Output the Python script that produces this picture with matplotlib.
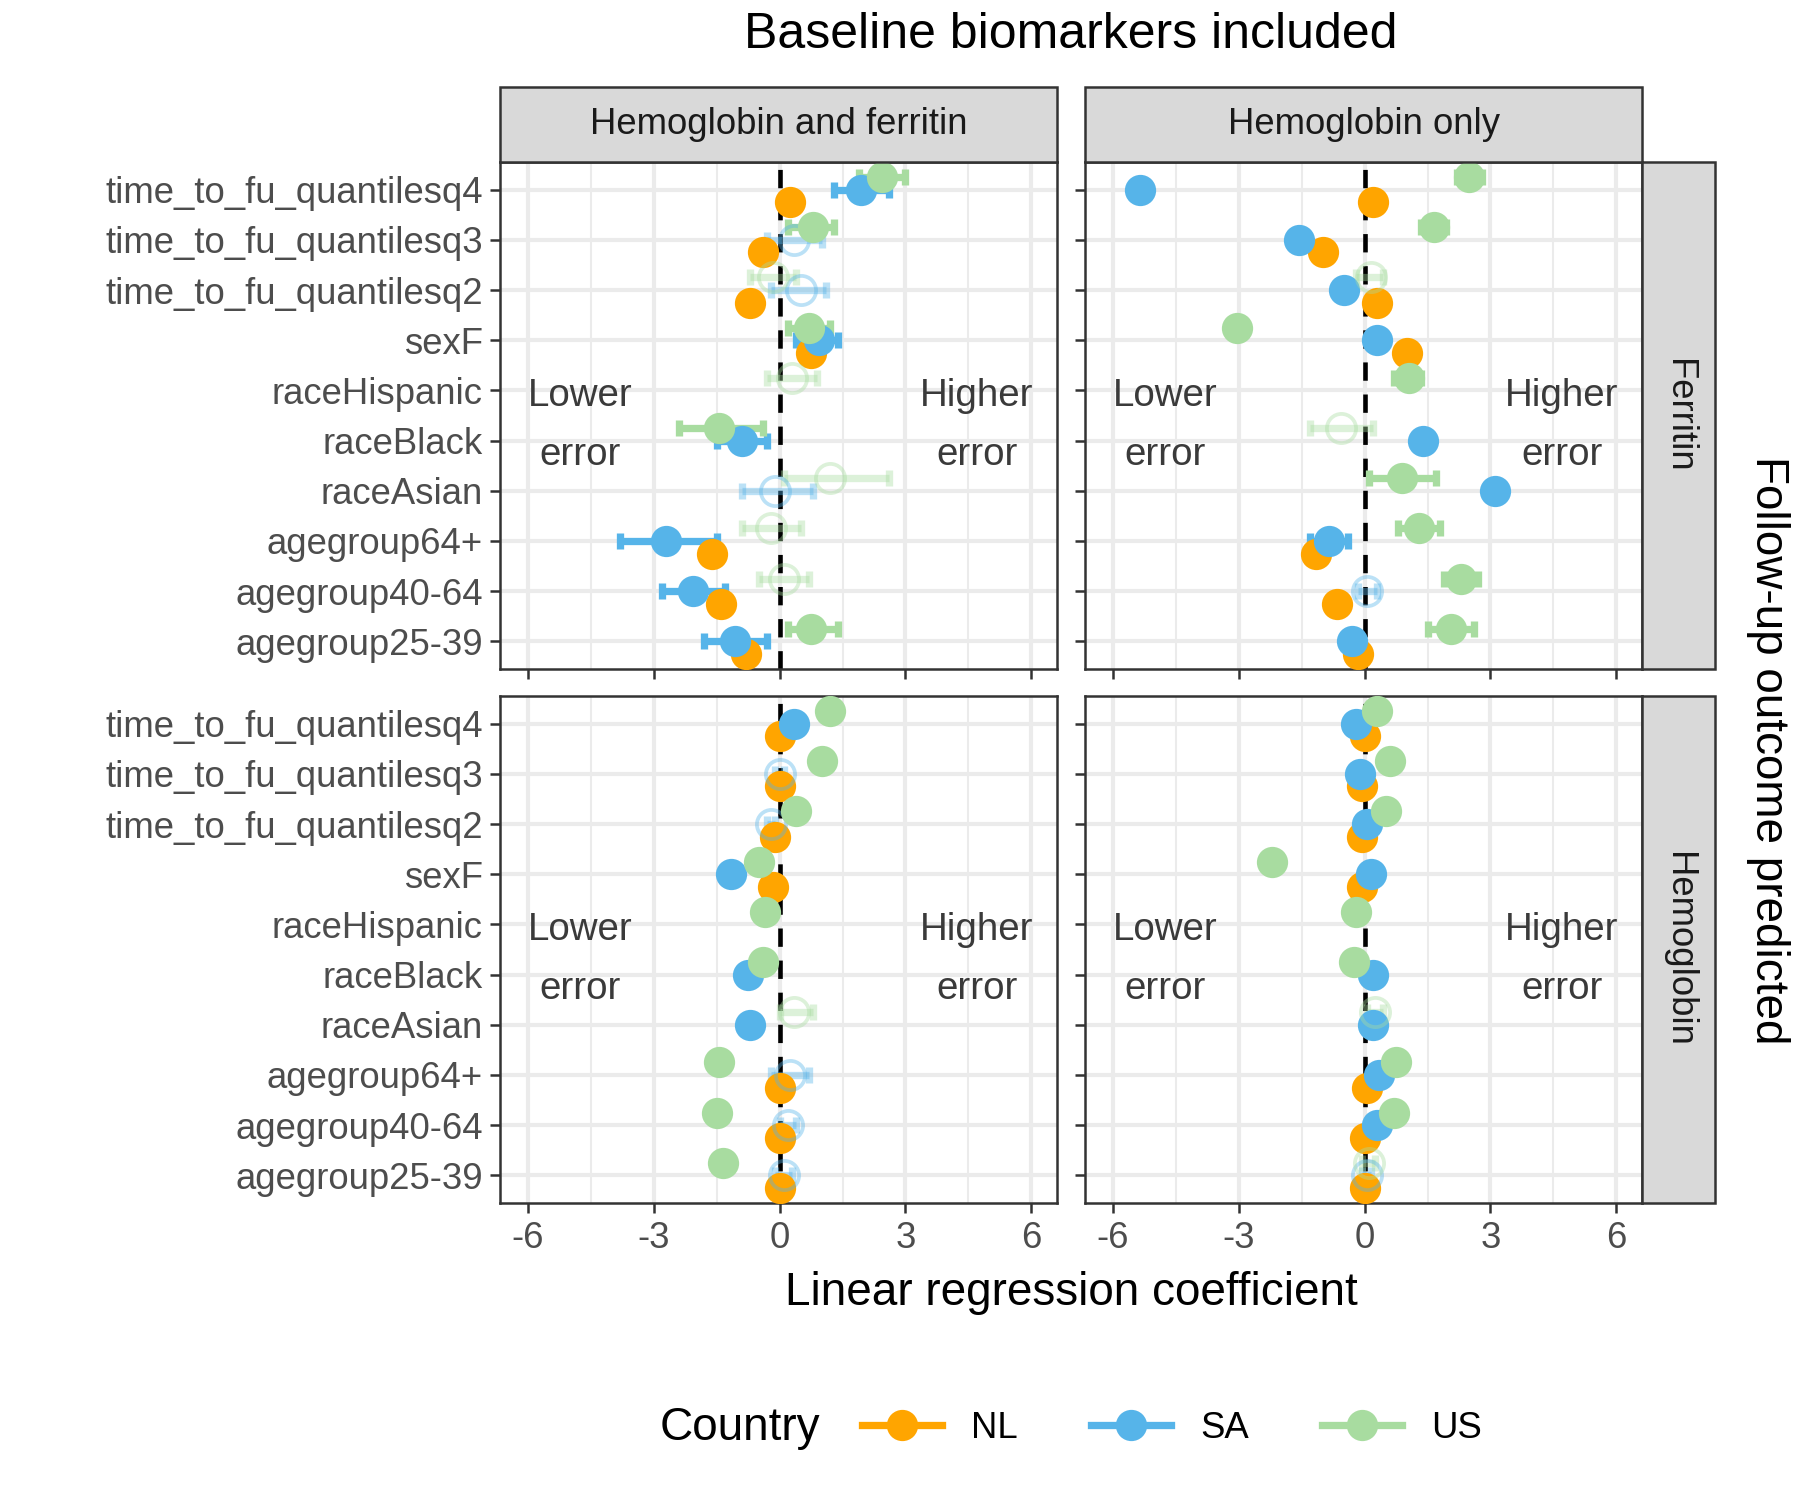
"""
Coefficient plot: biomarkers x outcome, faceted, with country dodge.
"""
import numpy as np
import matplotlib
matplotlib.use("Agg")
import matplotlib.pyplot as plt
from matplotlib.patches import Rectangle
from matplotlib.lines import Line2D
from matplotlib.offsetbox import HPacker

plt.rcParams["font.family"] = ["Liberation Sans", "DejaVu Sans"]

TERMS = ["agegroup25-39", "agegroup40-64", "agegroup64+", "raceAsian", "raceBlack",
         "raceHispanic", "sexF", "time_to_fu_quantilesq2", "time_to_fu_quantilesq3",
         "time_to_fu_quantilesq4"]
COUNTRIES = ["NL", "SA", "US"]
COLORS = {"NL": "#FFA500", "SA": "#56B4E9", "US": "#A8DCA0"}
COLS = ["Hemoglobin and ferritin", "Hemoglobin only"]
ROWS = ["Ferritin", "Hemoglobin"]
nan = np.nan

# estimate / lower / upper / significant, ordered as TERMS (bottom to top)
# --- Hemoglobin and ferritin, Ferritin outcome
HF_FER_EST = {"NL": [-0.8, -1.4, -1.6, nan, nan, nan, 0.75, -0.7, -0.4, 0.25],
              "SA": [-1.05, -2.05, -2.7, -0.1, -0.9, nan, 0.95, 0.5, 0.35, 1.95],
              "US": [0.75, 0.1, -0.2, 1.2, -1.45, 0.3, 0.7, -0.15, 0.8, 2.45]}
HF_FER_LO = {"NL": [-0.85, -1.45, -1.65, nan, nan, nan, 0.7, -0.75, -0.45, 0.2],
             "SA": [-1.8, -2.8, -3.8, -0.9, -1.5, nan, 0.4, -0.2, -0.3, 1.3],
             "US": [0.2, -0.5, -0.9, 0.1, -2.4, -0.3, 0.2, -0.7, 0.2, 1.9]}
HF_FER_HI = {"NL": [-0.75, -1.35, -1.55, nan, nan, nan, 0.8, -0.65, -0.35, 0.3],
             "SA": [-0.3, -1.3, -1.5, 0.8, -0.3, nan, 1.4, 1.1, 1.0, 2.6],
             "US": [1.4, 0.7, 0.5, 2.6, -0.4, 0.9, 1.2, 0.4, 1.3, 3.0]}
HF_FER_SIG = {"NL": [1, 1, 1, 0, 0, 0, 1, 1, 1, 1],
              "SA": [1, 1, 1, 0, 1, 0, 1, 0, 0, 1],
              "US": [1, 0, 0, 0, 1, 0, 1, 0, 1, 1]}

# --- Hemoglobin only, Ferritin outcome
H_FER_EST = {"NL": [-0.15, -0.65, -1.15, nan, nan, nan, 1.0, 0.3, -1.0, 0.2],
             "SA": [-0.3, 0.05, -0.85, 3.1, 1.4, nan, 0.3, -0.5, -1.55, -5.35],
             "US": [2.05, 2.3, 1.3, 0.9, -0.55, 1.05, -3.05, 0.15, 1.65, 2.5]}
H_FER_LO = {"NL": [-0.2, -0.7, -1.2, nan, nan, nan, 0.95, 0.25, -1.05, 0.15],
            "SA": [-0.35, -0.15, -1.3, 2.9, 1.35, nan, 0.25, -0.55, -1.6, -5.4],
            "US": [1.5, 1.9, 0.8, 0.1, -1.3, 0.7, -3.1, -0.2, 1.35, 2.2]}
H_FER_HI = {"NL": [-0.1, -0.6, -1.1, nan, nan, nan, 1.05, 0.35, -0.95, 0.25],
            "SA": [-0.25, 0.3, -0.4, 3.3, 1.45, nan, 0.35, -0.45, -1.5, -5.3],
            "US": [2.6, 2.7, 1.8, 1.7, 0.2, 1.35, -3.0, 0.45, 1.95, 2.8]}
H_FER_SIG = {"NL": [1, 1, 1, 0, 0, 0, 1, 1, 1, 1],
             "SA": [1, 0, 1, 1, 1, 0, 1, 1, 1, 1],
             "US": [1, 1, 1, 1, 0, 1, 1, 0, 1, 1]}

# --- Hemoglobin and ferritin, Hemoglobin outcome
HF_HB_EST = {"NL": [0.0, 0.0, 0.0, nan, nan, nan, -0.15, -0.1, 0.0, 0.0],
             "SA": [0.1, 0.2, 0.25, -0.7, -0.75, nan, -1.15, -0.2, 0.0, 0.35],
             "US": [-1.35, -1.5, -1.45, 0.35, -0.4, -0.35, -0.5, 0.4, 1.0, 1.2]}
HF_HB_LO = {"NL": [-0.05, -0.05, -0.05, nan, nan, nan, -0.2, -0.15, -0.05, -0.05],
            "SA": [-0.1, 0.0, -0.2, -0.75, -0.8, nan, -1.2, -0.3, -0.1, 0.3],
            "US": [-1.4, -1.55, -1.5, 0.0, -0.45, -0.4, -0.55, 0.35, 0.95, 1.15]}
HF_HB_HI = {"NL": [0.05, 0.05, 0.05, nan, nan, nan, -0.1, -0.05, 0.05, 0.05],
            "SA": [0.3, 0.4, 0.7, -0.65, -0.7, nan, -1.1, -0.1, 0.1, 0.4],
            "US": [-1.3, -1.45, -1.4, 0.8, -0.35, -0.3, -0.45, 0.45, 1.05, 1.25]}
HF_HB_SIG = {"NL": [1, 1, 1, 0, 0, 0, 1, 1, 1, 1],
             "SA": [0, 0, 0, 1, 1, 0, 1, 0, 0, 1],
             "US": [1, 1, 1, 0, 1, 1, 1, 1, 1, 1]}

# --- Hemoglobin only, Hemoglobin outcome
H_HB_EST = {"NL": [0.0, 0.0, 0.05, nan, nan, nan, -0.05, -0.05, -0.05, 0.0],
            "SA": [0.05, 0.3, 0.35, 0.2, 0.2, nan, 0.15, 0.05, -0.1, -0.2],
            "US": [0.1, 0.7, 0.75, 0.25, -0.25, -0.2, -2.2, 0.5, 0.6, 0.3]}
H_HB_LO = {"NL": [-0.05, -0.05, 0.0, nan, nan, nan, -0.1, -0.1, -0.1, -0.05],
           "SA": [-0.05, 0.25, 0.3, 0.15, 0.15, nan, 0.1, 0.0, -0.15, -0.25],
           "US": [-0.05, 0.65, 0.7, 0.05, -0.3, -0.25, -2.25, 0.45, 0.55, 0.25]}
H_HB_HI = {"NL": [0.05, 0.05, 0.1, nan, nan, nan, 0.0, 0.0, 0.0, 0.05],
           "SA": [0.15, 0.35, 0.4, 0.25, 0.25, nan, 0.2, 0.1, -0.05, -0.15],
           "US": [0.25, 0.75, 0.8, 0.45, -0.2, -0.15, -2.15, 0.55, 0.65, 0.35]}
H_HB_SIG = {"NL": [1, 1, 1, 0, 0, 0, 1, 1, 1, 1],
            "SA": [0, 1, 1, 1, 1, 0, 1, 1, 1, 1],
            "US": [0, 1, 1, 0, 1, 1, 1, 1, 1, 1]}

PANELS = {(0, 0): (HF_FER_EST, HF_FER_LO, HF_FER_HI, HF_FER_SIG),
          (0, 1): (H_FER_EST, H_FER_LO, H_FER_HI, H_FER_SIG),
          (1, 0): (HF_HB_EST, HF_HB_LO, HF_HB_HI, HF_HB_SIG),
          (1, 1): (H_HB_EST, H_HB_LO, H_HB_HI, H_HB_SIG)}

DODGE = {"NL": -0.25, "SA": 0.0, "US": 0.25}

fig = plt.figure(figsize=(12, 10), dpi=150)
left = [0.278, 0.603]
bottom = [0.554, 0.198]
w, h = 0.309, 0.338
grid_c = "#EBEBEB"
ypos = np.arange(len(TERMS))

for (r, c), (est, lo, hi, sig) in PANELS.items():
    ax = fig.add_axes([left[c], bottom[r], w, h])
    ax.set_xlim(-6.65, 6.6)
    ax.set_ylim(-0.55, 9.55)
    for xv in [-4.5, -1.5, 1.5, 4.5]:
        ax.axvline(xv, color=grid_c, lw=1.0, zorder=0)
    for xv in [-6, -3, 0, 3, 6]:
        ax.axvline(xv, color=grid_c, lw=2.0, zorder=0)
    for yv in ypos:
        ax.axhline(yv, color=grid_c, lw=2.0, zorder=0)
    ax.axvline(0, color="black", lw=2.2, ls=(0, (4, 3)), zorder=1)
    for cc in COUNTRIES:
        e = np.array(est[cc], float)
        l = np.array(lo[cc], float)
        u = np.array(hi[cc], float)
        s = np.array(sig[cc], bool)
        y = ypos + DODGE[cc]
        for i in range(len(TERMS)):
            if np.isnan(e[i]):
                continue
            a = 1.0 if s[i] else 0.4
            ax.errorbar(e[i], y[i], xerr=[[e[i] - l[i]], [u[i] - e[i]]], fmt="none",
                        ecolor=COLORS[cc], alpha=a, elinewidth=3.5, capsize=4,
                        capthick=3.5, zorder=2)
            if s[i]:
                ax.plot(e[i], y[i], "o", ms=14, color=COLORS[cc], mec=COLORS[cc], zorder=3)
            else:
                ax.plot(e[i], y[i], "o", ms=14, mfc="none", mec=COLORS[cc], mew=1.8,
                        alpha=a, zorder=3)
    ax.text(-4.75, 4.3, "Lower\nerror", ha="center", va="center", fontsize=18.5,
            color="#3A3A3A", linespacing=1.8)
    ax.text(4.7, 4.3, "Higher\nerror", ha="center", va="center", fontsize=18.5,
            color="#3A3A3A", linespacing=1.8)
    ax.set_yticks(ypos)
    if c == 0:
        ax.set_yticklabels(TERMS, fontsize=17.5, color="#4D4D4D")
    else:
        ax.set_yticklabels([])
    ax.set_xticks([-6, -3, 0, 3, 6])
    if r == 1:
        ax.set_xticklabels(["-6", "-3", "0", "3", "6"], fontsize=17.5, color="#4D4D4D")
    else:
        ax.set_xticklabels([])
    ax.tick_params(length=5, width=1.2, color="#333333")
    for sp in ax.spines.values():
        sp.set_color("#333333")
        sp.set_linewidth(1.2)
    # strips
    if r == 0:
        fig.patches.append(Rectangle((left[c], bottom[0] + h), w, 0.05, transform=fig.transFigure,
                                     facecolor="#D9D9D9", edgecolor="#333333", lw=1.2))
        fig.text(left[c] + w / 2, bottom[0] + h + 0.025, COLS[c], ha="center", va="center",
                 fontsize=17.5, color="#1A1A1A")
    if c == 1:
        fig.patches.append(Rectangle((left[1] + w, bottom[r]), 0.041, h, transform=fig.transFigure,
                                     facecolor="#D9D9D9", edgecolor="#333333", lw=1.2))
        fig.text(left[1] + w + 0.0205, bottom[r] + h / 2, ROWS[r], ha="center", va="center",
                 rotation=-90, fontsize=17.5, color="#1A1A1A")

fig.text(0.595, 0.977, "Baseline biomarkers included", ha="center", va="center", fontsize=24)
fig.text(0.595, 0.138, "Linear regression coefficient", ha="center", va="center", fontsize=22)
fig.text(0.982, 0.5, "Follow-up outcome predicted", ha="center", va="center", rotation=-90,
         fontsize=22)

handles = [Line2D([0], [0], color=COLORS[cc], lw=3.5, marker="o", ms=14) for cc in COUNTRIES]
fig.legend(handles, COUNTRIES, loc="center", bbox_to_anchor=(0.595, 0.048), ncol=3,
           frameon=False, fontsize=17.5, title="Country", title_fontsize=22,
           handlelength=2.2, columnspacing=2.0)
leg = fig.legends[0]
# put title to the left of the entries
box = leg._legend_box
box.__class__ = HPacker
box.sep = 20

fig.savefig("out.png", dpi=150)
